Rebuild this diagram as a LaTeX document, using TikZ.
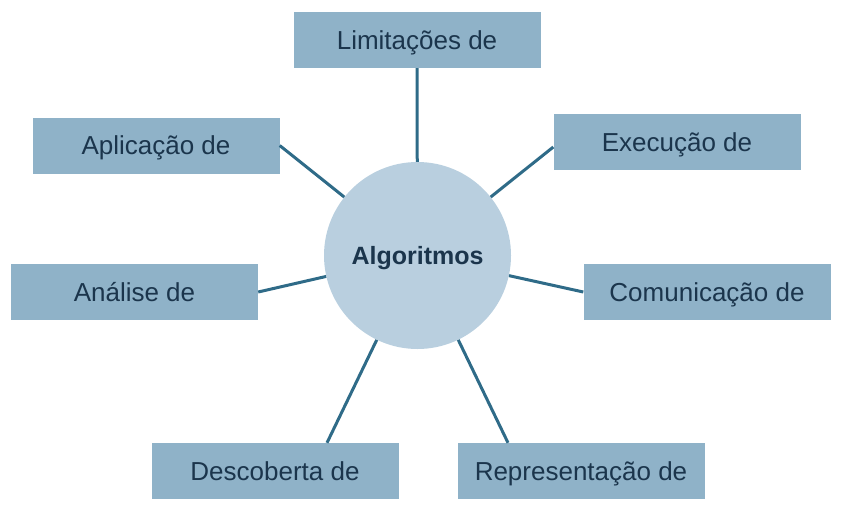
\documentclass[tikz,border=0pt]{standalone}
\usepackage{fontspec}
\setmainfont{Liberation Sans}
\definecolor{boxfill}{HTML}{8FB2C8}
\definecolor{circfill}{HTML}{B9CFDF}
\definecolor{linecol}{HTML}{2F6B88}
\definecolor{txtcol}{HTML}{1B354C}
\begin{document}
\begin{tikzpicture}[x=1pt,y=-1pt,
  topic/.style={rectangle, fill=boxfill, minimum width=247pt, minimum height=56pt, inner sep=0pt,
    text height=18.6pt, text depth=0pt,
    text=txtcol, font=\fontsize{26}{30}\selectfont},
  hub/.style={circle, fill=circfill, minimum size=187pt, inner sep=0pt,
    text height=17.9pt, text depth=0pt,
    text=txtcol, font=\fontsize{25}{30}\selectfont\bfseries},
  link/.style={draw=linecol, line width=3pt}]
\useasboundingbox (0,0) rectangle (842,514);
\node[hub] (c) at (417.5,255.5) {Algoritmos};
\node[topic] (lim) at (417,40) {Limitações de};
\node[topic] (apl) at (156,145.5) {Aplicação de};
\node[topic] (exe) at (677,142) {Execução de};
\node[topic] (ana) at (134.5,292) {Análise de};
\node[topic] (com) at (707,292) {Comunicação de};
\node[topic] (desc) at (275,471) {Descoberta de};
\node[topic] (rep) at (581,471) {Representação de};
\draw[link] (c) -- (lim.south);
\draw[link] (c) -- (apl.east);
\draw[link] (c) -- ([yshift=-5pt]exe.west);
\draw[link] (c) -- (ana.east);
\draw[link] (c) -- (com.west);
\draw[link] (c) -- ([xshift=52pt]desc.north);
\draw[link] (c) -- ([xshift=-73pt]rep.north);
\end{tikzpicture}
\end{document}
